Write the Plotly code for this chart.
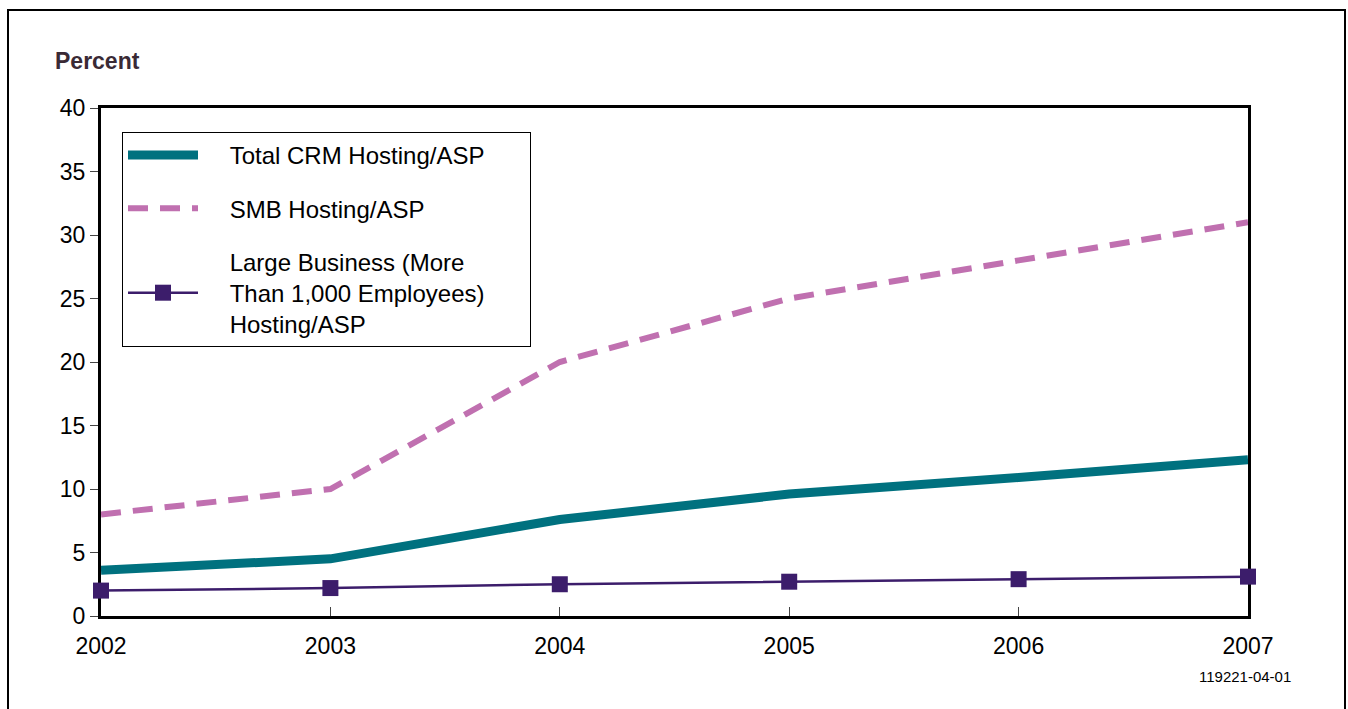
import plotly.graph_objects as go

# Hosting/ASP share of CRM, by year
years = [2002, 2003, 2004, 2005, 2006, 2007]
total_crm = [3.6, 4.5, 7.6, 9.6, 10.9, 12.3]
smb = [8.0, 10.0, 20.0, 25.0, 28.0, 31.0]
large_business = [2.0, 2.2, 2.5, 2.7, 2.9, 3.1]

PAD = "&nbsp;" * 4
TAIL = "&nbsp;" * 6
series_names = [
    PAD + "Total CRM Hosting/ASP" + TAIL,
    PAD + "SMB Hosting/ASP",
    PAD + "Large Business (More<br>" + PAD + "Than 1,000 Employees)" + TAIL + "<br>" + PAD + "Hosting/ASP",
]
y_ticks = [0, 5, 10, 15, 20, 25, 30, 35, 40]

TEAL = "#00717f"
PINK = "#c070b0"
PURPLE = "#3c1d6b"
FONT = "Liberation Sans, Arial, sans-serif"

fig = go.Figure()
fig.add_trace(go.Scatter(
    x=years, y=total_crm, name=series_names[0], mode="lines",
    line=dict(color=TEAL, width=9), legendgroup="a", cliponaxis=False,
))
fig.add_trace(go.Scatter(
    x=years, y=smb, name=series_names[1], mode="lines",
    line=dict(color=PINK, width=6, dash="20px,12px"), legendgroup="b", cliponaxis=False,
))
fig.add_trace(go.Scatter(
    x=years, y=large_business, name=series_names[2], mode="lines+markers",
    line=dict(color=PURPLE, width=2.5),
    marker=dict(symbol="square", size=16, color=PURPLE),
    legendgroup="c", cliponaxis=False,
))

L, R, T, B = 101, 100, 108, 93
W, H = 1348, 709
pw, ph = W - L - R, H - T - B


def px(xp):
    return (xp - L) / pw


def py(yp):
    return (H - B - yp) / ph


fig.update_layout(
    width=W, height=H,
    margin=dict(l=L, r=R, t=T, b=B),
    paper_bgcolor="white", plot_bgcolor="white",
    font=dict(family=FONT, size=23, color="black"),
    showlegend=True,
    legend=dict(
        x=px(122), y=py(132), xanchor="left", yanchor="top",
        bordercolor="black", borderwidth=1, bgcolor="white",
        font=dict(size=24), tracegroupgap=19, valign="middle",
        itemwidth=70,
    ),
    xaxis=dict(
        range=[2002, 2007], tickvals=years, ticktext=[str(y) for y in years],
        showgrid=False, zeroline=False,
        showline=True, linecolor="black", linewidth=3, mirror=True,
        ticks="inside", ticklen=9, tickwidth=1, tickcolor="#444",
        ticklabelstandoff=7, layer="below traces",
    ),
    yaxis=dict(
        range=[0, 40], tickvals=y_ticks,
        showgrid=False, zeroline=False,
        showline=True, linecolor="black", linewidth=3, mirror=True,
        ticks="outside", ticklen=8, tickwidth=1, tickcolor="#444",
        layer="below traces",
    ),
    annotations=[
        dict(text="<b>Percent</b>", x=px(53), y=py(61), xref="paper", yref="paper",
             xanchor="left", yanchor="middle", showarrow=False,
             font=dict(size=23, color="#3a2a35")),
        dict(text="119221-04-01", x=px(1245), y=py(676), xref="paper", yref="paper",
             xanchor="center", yanchor="middle", showarrow=False,
             font=dict(size=15, color="black")),
    ],
    shapes=[
        dict(type="rect", xref="paper", yref="paper",
             x0=px(8), x1=px(1345), y0=py(740), y1=py(10),
             line=dict(color="black", width=2), layer="below"),
    ],
)

fig.write_html("out.html")
